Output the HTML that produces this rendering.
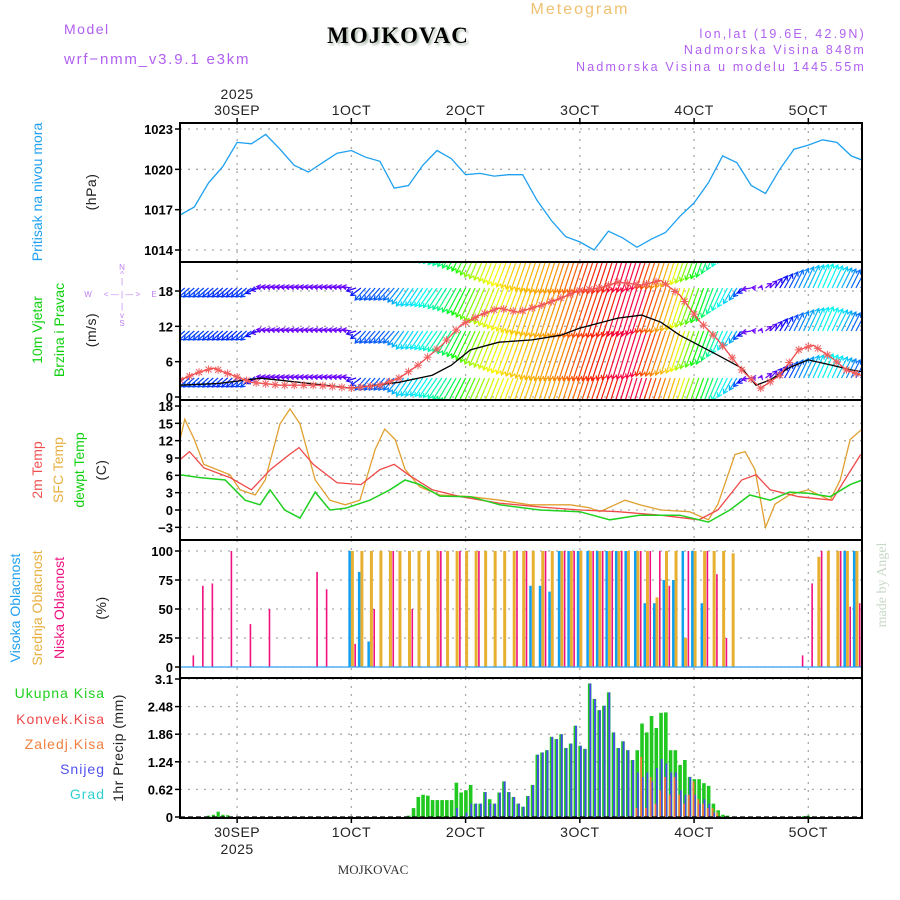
<!DOCTYPE html>
<html><head><meta charset="utf-8"><style>
body{margin:0;background:#fff;}
svg{display:block;font-family:"Liberation Sans",sans-serif;}
.tk{font-size:13px;font-weight:bold;fill:#000;}
.ax{font-size:14px;fill:#222;letter-spacing:0.5px;}
</style></head><body>
<svg id="chart" width="900" height="900" viewBox="0 0 900 900">
<defs>
<clipPath id="cp1"><rect x="180" y="123" width="682" height="139"/></clipPath>
<clipPath id="cp2"><rect x="180" y="263" width="682" height="136"/></clipPath>
<clipPath id="cp3"><rect x="180" y="401" width="682" height="138"/></clipPath>
<clipPath id="cp4"><rect x="180" y="541" width="682" height="136"/></clipPath>
<clipPath id="cp5"><rect x="180" y="679" width="682" height="138"/></clipPath>
<filter id="sh"><feDropShadow dx="2" dy="2" stdDeviation="1" flood-color="#9a9" flood-opacity="0.8"/></filter>
</defs>
<text x="64" y="34" font-size="14" fill="#b060f0" letter-spacing="1.5">Model</text>
<text x="64" y="64" font-size="15" fill="#b060f0" letter-spacing="1.8">wrf−nmm_v3.9.1 e3km</text>
<text x="398" y="43" font-size="23" font-weight="bold" font-family="Liberation Serif,serif" text-anchor="middle" fill="#000" letter-spacing="1" filter="url(#sh)">MOJKOVAC</text>
<text x="580" y="14" font-size="16" fill="#f0c070" text-anchor="middle" letter-spacing="2">Meteogram</text>
<text x="866" y="38" font-size="12.5" fill="#b060f0" text-anchor="end" letter-spacing="2.2">lon,lat (19.6E, 42.9N)</text>
<text x="866" y="54" font-size="12.5" fill="#b060f0" text-anchor="end" letter-spacing="2.2">Nadmorska Visina 848m</text>
<text x="866" y="71" font-size="12.5" fill="#b060f0" text-anchor="end" letter-spacing="2.2">Nadmorska Visina u modelu 1445.55m</text>

<text transform="translate(42,192) rotate(-90)" font-size="14" fill="#20a0f0" text-anchor="middle">Pritisak na nivou mora</text>
<text transform="translate(96,192) rotate(-90)" class="ax" text-anchor="middle">(hPa)</text>
<text transform="translate(42,330) rotate(-90)" font-size="14" fill="#10d010" text-anchor="middle">10m Vjetar</text>
<text transform="translate(64,330) rotate(-90)" font-size="14" fill="#10d010" text-anchor="middle">Brzina i Pravac</text>
<text transform="translate(96,330) rotate(-90)" class="ax" text-anchor="middle">(m/s)</text>
<g fill="#c080f0" font-size="8" text-anchor="middle">
<text x="122" y="270">N</text><text x="122" y="277">^</text><text x="122" y="284">|</text>
<text x="88" y="297">W</text><text x="122" y="297">&lt; — | — &gt;</text><text x="154" y="297">E</text>
<text x="122" y="309">|</text><text x="122" y="318">v</text><text x="122" y="326">S</text></g>
<text transform="translate(42,470) rotate(-90)" font-size="14" fill="#f05050" text-anchor="middle">2m Temp</text>
<text transform="translate(63,470) rotate(-90)" font-size="14" fill="#e8b040" text-anchor="middle">SFC Temp</text>
<text transform="translate(84,470) rotate(-90)" font-size="14" fill="#10d010" text-anchor="middle">dewpt Temp</text>
<text transform="translate(106,470) rotate(-90)" class="ax" text-anchor="middle">(C)</text>
<text transform="translate(20,608) rotate(-90)" font-size="14" fill="#20a0f0" text-anchor="middle">Visoka Oblacnost</text>
<text transform="translate(42,608) rotate(-90)" font-size="14" fill="#e8b040" text-anchor="middle">Srednja Oblacnost</text>
<text transform="translate(64,608) rotate(-90)" font-size="14" fill="#f01080" text-anchor="middle">Niska Oblacnost</text>
<text transform="translate(106,608) rotate(-90)" class="ax" text-anchor="middle">(%)</text>
<g font-size="14" text-anchor="end" letter-spacing="1">
<text x="105" y="698" fill="#20d020">Ukupna Kisa</text>
<text x="105" y="724" fill="#f04848">Konvek.Kisa</text>
<text x="105" y="749" fill="#f08040">Zaledj.Kisa</text>
<text x="105" y="774" fill="#5050f0">Snijeg</text>
<text x="105" y="799" fill="#30d0d0">Grad</text></g>
<text transform="translate(123,748) rotate(-90)" class="ax" text-anchor="middle">1hr Precip (mm)</text>
<text transform="translate(886,585) rotate(-90)" font-size="14" fill="#c8d8c8" font-family="Liberation Serif,serif" text-anchor="middle">made by Angel</text>
<text x="373" y="874" font-size="13" font-family="Liberation Serif,serif" fill="#333" text-anchor="middle">MOJKOVAC</text>
<g id="g"></g>
</svg>
<script>
const pressVals=[1016.6,1017.2,1019.0,1020.2,1022.0,1021.9,1022.6,1021.5,1020.3,1019.8,1020.5,1021.2,1021.4,1020.9,1020.6,1018.6,1018.8,1020.3,1021.4,1020.8,1019.6,1019.7,1019.5,1019.6,1019.6,1017.7,1016.2,1015.0,1014.6,1014.0,1015.4,1014.9,1014.2,1014.8,1015.3,1016.5,1017.5,1019.0,1021.0,1020.5,1018.8,1018.2,1020.0,1021.5,1021.8,1022.2,1022.0,1021.0,1020.6];
const gustHours=[0,4,7,11,15,21,29,36,42,46,50,55,59,63,67,71,76,80,84,88,92,97,101,105,109,113,118,122,126,130,133,137,140,144];
const gustVals=[2.9,4.2,4.9,3.7,2.5,2.0,2.0,1.5,2.0,3.2,5.4,8.8,12.2,13.9,15.1,14.4,15.6,16.8,18.1,18.5,19.5,19.0,19.8,17.3,13.0,9.7,4.6,1.5,3.7,8.0,8.8,6.6,4.6,3.4];
const speedHours=[0,8,17,25,36,46,53,57,61,67,74,80,84,92,97,101,105,109,113,118,121,124,128,132,137,141,144];
const speedVals=[2.0,2.3,3.2,2.5,1.5,2.5,3.7,5.4,8.0,9.3,9.7,10.5,11.7,13.4,13.9,12.7,10.5,8.8,7.1,4.9,2.0,2.9,5.0,6.3,5.4,4.6,4.2];
const windU=[-7,-7,-7,-7,-7,-7,-6,-6,-6,-6,-6,-6,-6,-7,-7,-7,-8,-8,-9,-9,-9,-10,-10,-11,-11,-11,-11,-11,-11,-11,-11,-10,-10,-10,-10,-9,-9,-8,-7,-5,-6,4,5,6,7,7,7,6,6];
const windV=[-6,-6,-6,-6,-6,-6,1,1,1,1,1,1,1,-8,-8,-8,-12,-12,-13,-15,-18,-22,-25,-28,-30,-32,-33,-33,-33,-33,-33,-32,-32,-30,-30,-28,-25,-22,-15,-8,-1,3,8,12,15,16,14,12,10];
const windHue=[225,225,225,230,230,225,265,265,265,265,265,265,265,220,220,215,190,185,170,150,120,90,70,60,50,45,40,35,25,15,5,350,345,10,30,50,90,130,170,200,265,265,240,215,195,175,190,215,225];
const tempHours=[0,2,5,10.5,15,19,23,25,28,33,38,42,45,48,53,59,67,76,84,92,101,109,113,118,121,124,130,137,141,143];
const temp2m=[8.7,10.1,7.3,5.6,3.5,7.0,9.6,10.8,7.9,4.7,4.4,7.0,7.9,6.1,3.5,2.3,1.2,0.5,0.0,-0.3,-0.9,-1.7,0.0,5.2,6.1,3.5,2.3,1.7,7.0,9.6];
const tempSfcHours=[0,1,3,5,10.5,12.6,15.8,17.9,21,23.1,25.2,28.4,31.5,34.7,37.8,41,43,45.2,47.3,50.4,54.6,61,67.2,73.5,82,86,88.2,93.5,96.6,101,107,111,113,116.6,118.7,120.8,123,125,128,132,136.6,138.7,140.8,143.3];
const tempSfc=[12.2,15.7,12.2,7.9,6.1,3.5,2.6,5.2,14.9,17.5,14.9,5.2,1.7,0.9,1.7,10.5,14.0,12.2,7.0,4.0,2.6,2.3,1.7,0.9,0.9,0.4,-0.3,1.7,0.9,0.0,-0.3,-1.7,1.0,9.6,10.1,7.0,-3.0,1.0,2.6,3.5,1.7,5.2,12.2,14.0];
const dewHours=[0,4.2,9.5,13.7,16.8,18.9,22,25.2,28.4,31.5,34.7,39.9,44.1,47.3,50.4,54.6,61,67.2,75.6,84,90.3,96.6,105,111,115.5,119.7,124,128,132,136.6,140.8,143.3];
const dewVals=[6.1,5.6,5.2,1.7,0.9,3.5,0.0,-1.4,3.1,0.0,0.3,1.7,3.5,5.2,4.4,2.4,2.3,0.9,0.0,-0.3,-1.7,-0.9,-0.9,-2.1,0.0,2.6,1.7,3.1,2.9,2.3,4.4,5.2];
const cloudHigh=[0,0,0,0,0,0,0,0,0,0,0,0,0,0,0,0,0,0,100,82,22,0,0,0,0,0,0,0,0,0,0,0,0,0,0,0,0,70,70,65,100,100,100,100,100,100,100,100,100,55,55,75,75,100,100,55,0,0,0,0,0,0,0,0,0,0,0,0,0,0,100,100,100];
const cloudMid=[0,0,0,0,0,0,0,0,0,0,0,0,0,0,0,0,0,0,100,100,100,100,100,100,100,100,100,100,100,100,100,100,100,100,100,100,100,100,100,100,100,100,100,100,100,100,100,100,100,100,60,100,100,25,100,100,100,100,98,0,0,0,0,0,0,0,0,95,100,100,100,100,30];
const cloudLow=[0,10,70,72,0,100,0,37,0,50,0,0,0,0,82,67,0,0,20,0,50,0,100,0,50,0,0,100,0,100,0,100,0,0,0,100,100,0,100,0,100,100,0,100,100,100,100,0,100,100,100,70,0,100,0,100,80,25,0,0,0,0,0,0,0,10,72,100,0,100,52,55,0];
const precipStart=48;
const precipTotal=[0.03,0.2,0.45,0.5,0.48,0.38,0.38,0.38,0.38,0.38,0.77,0.55,0.6,0.72,0.3,0.3,0.56,0.4,0.3,0.55,0.8,0.56,0.45,0.3,0.23,0.47,0.72,1.4,1.45,1.5,1.8,1.75,1.86,1.55,1.65,2.05,1.6,1.53,3.0,2.65,2.4,2.5,2.8,1.9,1.55,1.7,1.5,1.28,1.5,2.1,1.9,2.27,2.0,2.34,2.35,1.5,1.5,1.17,1.28,0.9,0.85,0.85,0.76,0.7,0.3,0.15,0.05,0.03];
const precipSnow=[0,0,0,0,0,0,0,0,0,0,0.2,0,0.1,0.3,0.3,0.3,0.56,0.3,0.3,0.55,0.8,0.56,0.45,0.3,0.23,0.47,0.72,1.4,1.45,1.5,1.8,1.75,1.86,1.55,1.65,2.05,1.6,1.53,3.0,2.65,2.4,2.5,2.8,1.9,1.55,1.7,1.5,1.28,1.0,0.9,1.0,0.8,1.1,1.3,1.2,1.0,1.0,0.6,0.5,0.9,0.5,0.3,0.4,0.3,0.1,0,0,0];
const precipIce=[0,0,0,0,0,0,0,0,0,0,0,0,0,0,0,0,0,0,0,0,0,0,0,0,0,0,0,0,0,0,0,0,0,0,0,0,0,0,0,0,0,0,0,0,0,0,0,0,0.2,1.35,0.2,0.9,0.3,0.6,0.9,0.5,0.9,0.5,0.3,0.5,0.8,0.4,0.3,0.2,0.2,0.1,0,0];
const earlyPrecipHours=[6,7,8,9,10,131,132];
const earlyPrecipVals=[0.03,0.05,0.12,0.05,0.04,0.02,0.03];
const dayLabels=["30SEP","1OCT","2OCT","3OCT","4OCT","5OCT"];
const dayHours=[12,36,60,84,108,132];
const pressTicks=[1014,1017,1020,1023];
const windTicks=[0,6,12,18];
const tempTicks=[-3,0,3,6,9,12,15,18];
const cloudTicks=[0,25,50,75,100];
const precipTicks=[0,0.62,1.24,1.86,2.48,3.1];

const NS="http://www.w3.org/2000/svg";
const G=document.getElementById('g');
function mk(tag,attrs,parent){const e=document.createElementNS(NS,tag);for(const k in attrs)e.setAttribute(k,attrs[k]);(parent||G).appendChild(e);return e;}
const X=h=>180+h*4.76;
const L=180,R=862;
const panels=[
 {id:'pressure',top:123,bot:262,y0:250,v0:1014,y1:129,v1:1023,ticks:pressTicks,fmt:v=>v,cp:'cp1'},
 {id:'wind',top:262,bot:400,y0:397,v0:0,y1:291,v1:18,ticks:windTicks,fmt:v=>v,cp:'cp2'},
 {id:'temp',top:400,bot:540,y0:510,v0:0,y1:406,v1:18,ticks:tempTicks,fmt:v=>v<0?'−'+(-v):v,cp:'cp3'},
 {id:'cloud',top:540,bot:678,y0:667,v0:0,y1:551,v1:100,ticks:cloudTicks,fmt:v=>v,cp:'cp4'},
 {id:'precip',top:678,bot:818,y0:817,v0:0,y1:679,v1:3.1,ticks:precipTicks,fmt:v=>v,cp:'cp5'}];
panels.forEach(p=>{p.Y=v=>p.y0+(v-p.v0)*(p.y1-p.y0)/(p.v1-p.v0);});
panels.forEach(p=>{
 const gg=mk('g',{});
 
 
 p.ticks.forEach(t=>{const y=p.Y(t);
  const ln=mk('line',{x1:L,x2:R,y1:y,y2:y,stroke:'#aaa','stroke-dasharray':'2,6','stroke-width':1.3},gg);
  
  
  const tk=mk('line',{x1:L-5,x2:L,y1:y,y2:y,stroke:'#000','stroke-width':1.5});
  
  
  const tx=mk('text',{x:L-7,y:y+5,'text-anchor':'end',class:'tk'});tx.textContent=p.fmt(t);
  
  
 });
 dayHours.forEach(h=>{const ln=mk('line',{x1:X(h),x2:X(h),y1:p.top,y2:p.bot,stroke:'#aaa','stroke-dasharray':'2,6','stroke-width':1.3},gg);
  
  });
});
function poly(hs,vs,p,color,name,w){
 const pts=hs.map((h,i)=>X(h).toFixed(1)+','+p.Y(vs[i]).toFixed(1)).join(' ');
 const e=mk('polyline',{points:pts,fill:'none',stroke:color,'stroke-width':w||1.3,'clip-path':'url(#'+p.cp+')'});
 
 
 return e;
}
poly(pressVals.map((v,i)=>i*3),pressVals,panels[0],'#1ea0f0','pressure-line',1.3);
const wp=panels[1];
const wg=mk('g',{'clip-path':'url(#cp2)'});


const rows=[244,288,331,378];
for(let h=0;h<=144;h++){
 const i=Math.min(Math.floor(h/3),47),f=(h-i*3)/3;
 const u=(windU[i]*(1-f)+windU[i+1]*f)*1.5,v=(windV[i]*(1-f)+windV[i+1]*f)*1.5;
 const hue=(Math.abs(windHue[i+1]-windHue[i])>180)?windHue[i]:(windHue[i]*(1-f)+windHue[i+1]*f);
 const col='hsl('+hue.toFixed(0)+',95%,50%)';
 const len=Math.hypot(u,v)||1,ux=u/len,uy=-v/len;
 rows.forEach(yb=>{
  const x=X(h),x2=x+u,y2=yb-v;
  const a=mk('path',{d:`M${x},${yb}L${x2},${y2}M${x2-4*ux+2.5*uy},${y2-4*uy-2.5*ux}L${x2},${y2}L${x2-4*ux-2.5*uy},${y2-4*uy+2.5*ux}`,stroke:col,fill:'none','stroke-width':1.2},wg);
  
  
 });
}
poly(speedHours,speedVals,wp,'#000','wind-speed-line',1.3);
poly(gustHours,gustVals,wp,'#f04848','wind-gust-line',1.3);
const mg=mk('g',{'clip-path':'url(#cp2)'});


for(let h=0;h<=144;h+=2){
 let k=0;while(k<gustHours.length-2&&gustHours[k+1]<h)k++;
 const f=(h-gustHours[k])/(gustHours[k+1]-gustHours[k]);
 const v=gustVals[k]*(1-f)+gustVals[k+1]*f;
 const x=X(h),y=wp.Y(v);
 const m=mk('path',{d:`M${x-3},${y-3}L${x+3},${y+3}M${x-3},${y+3}L${x+3},${y-3}M${x-4},${y}L${x+4},${y}M${x},${y-4}L${x},${y+4}`,stroke:'#f06060','stroke-width':1},mg);
 
 
}
const tp=panels[2];
poly(tempSfcHours,tempSfc,tp,'#e0a030','sfc-temp-line',1.3);
poly(tempHours,temp2m,tp,'#f04848','temp-2m-line',1.3);
poly(dewHours,dewVals,tp,'#20d020','dewpoint-line',1.5);
const cp=panels[3];
const cg=mk('g',{'clip-path':'url(#cp4)'});


function cbar(h,v,dx,w,col,name){if(v<=0)return;const y=cp.Y(v);
 const r=mk('rect',{x:X(h)+dx,y:y,width:w,height:cp.Y(0)-y,fill:col},cg);
 
 }
cloudMid.forEach((v,i)=>cbar(i*2,v,-0.5,3,'#e8b030','mid-cloud-bar'));
cloudHigh.forEach((v,i)=>cbar(i*2,v,-3,2.5,'#10a0f0','high-cloud-bar'));
cloudLow.forEach((v,i)=>cbar(i*2,v,3,1.6,'#f01080','low-cloud-bar'));
const bl=mk('line',{x1:L,x2:R,y1:cp.Y(0),y2:cp.Y(0),stroke:'#30a0f0','stroke-width':1.2});


const pp=panels[4];
const pg=mk('g',{'clip-path':'url(#cp5)'});


function pbar(h,v,dx,w,col,name){if(v<=0)return;const y=pp.Y(v);
 const r=mk('rect',{x:X(h)+dx,y:y,width:w,height:pp.Y(0)-y,fill:col},pg);
 
 }
precipTotal.forEach((v,i)=>pbar(precipStart+i,v,-1.5,3.6,'#20c820','total-precip-bar'));
precipSnow.forEach((v,i)=>pbar(precipStart+i,v,0,1.8,'#4848f0','snow-bar'));
precipIce.forEach((v,i)=>pbar(precipStart+i,v,-1.5,1.8,'#f08030','freezing-rain-bar'));
earlyPrecipHours.forEach((h,i)=>pbar(h,earlyPrecipVals[i],-1.5,3.2,'#20c820','total-precip-bar'));
const pl=mk('line',{x1:L,x2:R,y1:pp.Y(0),y2:pp.Y(0),stroke:'#000','stroke-width':1.2,'stroke-dasharray':'5,3'});


panels.forEach(p=>{
 const r=mk('rect',{x:L,y:p.top,width:R-L,height:p.bot-p.top,fill:'none',stroke:'#000','stroke-width':2});
 
 
});
dayHours.forEach((h,i)=>{
 const t1=mk('text',{x:X(h),y:115,'text-anchor':'middle',class:'ax'});t1.textContent=dayLabels[i];
 
 
 const t2=mk('text',{x:X(h),y:837,'text-anchor':'middle',class:'ax'});t2.textContent=dayLabels[i];
 
 
 const a=mk('line',{x1:X(h),x2:X(h),y1:118,y2:123,stroke:'#000','stroke-width':1.5});
 
 
 const b=mk('line',{x1:X(h),x2:X(h),y1:818,y2:823,stroke:'#000','stroke-width':1.5});
 
 
});
const y1=mk('text',{x:X(12),y:99,'text-anchor':'middle',class:'ax'});y1.textContent='2025';


const y2=mk('text',{x:X(12),y:854,'text-anchor':'middle',class:'ax'});y2.textContent='2025';


</script>
</body></html>
